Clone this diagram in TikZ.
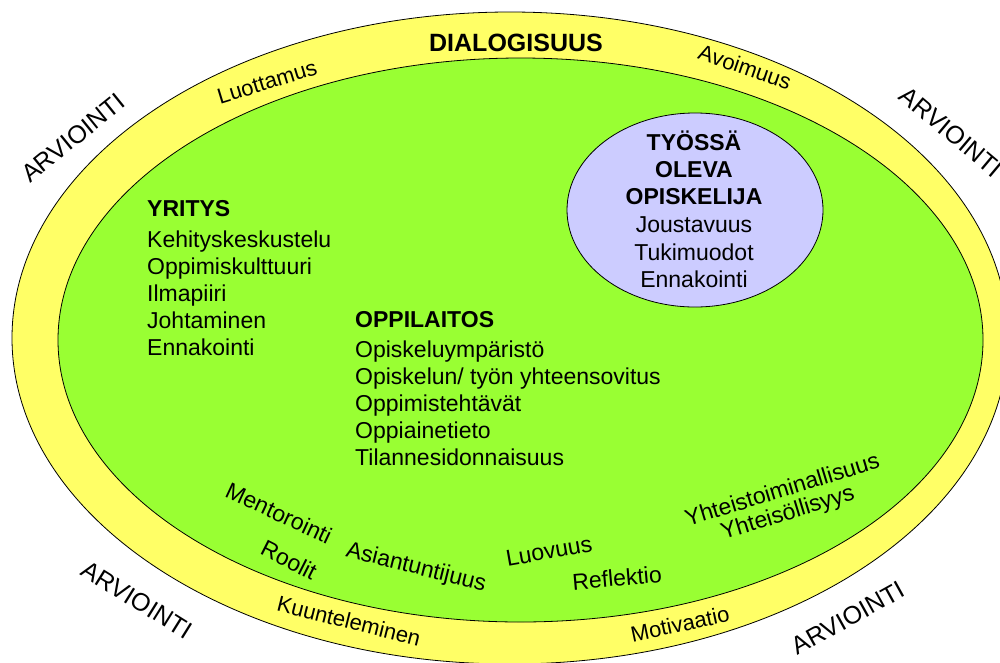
\documentclass[tikz,border=0pt]{standalone}
\usepackage{fontspec}
\setmainfont{Liberation Sans}
\definecolor{ringyellow}{HTML}{FFFF66}
\definecolor{fieldgreen}{HTML}{99FF33}
\definecolor{studentblue}{HTML}{CCCCFF}
\begin{document}
\begin{tikzpicture}[x=1pt,y=-1pt,
  outline/.style={draw=black,line width=0.8pt},
  lbl/.style={inner sep=0pt,font=\fontsize{23}{27}\selectfont},
  head/.style={inner sep=0pt,font=\fontsize{23}{27}\selectfont\bfseries},
  ringtxt/.style={inner sep=0pt,font=\fontsize{22}{26}\selectfont},
  arv/.style={inner sep=0pt,font=\fontsize{25}{30}\selectfont},
  title/.style={inner sep=0pt,font=\fontsize{25}{30}\selectfont\bfseries}]
\useasboundingbox (0,0) rectangle (1000,662);
\clip (0,0) rectangle (1000,662);
\fill[white] (0,0) rectangle (1000,662);
% rings
\draw[outline,fill=ringyellow] (510,338) ellipse [x radius=498,y radius=326];
\draw[outline,fill=fieldgreen] (520.5,340) ellipse [x radius=462.5,y radius=282];
\draw[outline,fill=studentblue] (695,210) ellipse [x radius=128,y radius=97];
% outer labels
\node[arv,rotate=39] (a1) at (73,138) {ARVIOINTI};
\node[arv,rotate=-40] (a2) at (951,132) {ARVIOINTI};
\node[arv,rotate=-32] (a3) at (137,600) {ARVIOINTI};
\node[arv,rotate=29] (a4) at (848,618) {ARVIOINTI};
% ring labels
\node[title] (dia) at (516,43) {DIALOGISUUS};
\node[ringtxt,rotate=17] (luo) at (267,82) {Luottamus};
\node[ringtxt,rotate=-19] (avo) at (745,67) {Avoimuus};
\node[ringtxt,rotate=-14] (kuu) at (349,621) {Kuunteleminen};
\node[ringtxt,rotate=12] (mot) at (680,624) {Motivaatio};
% YRITYS
\node[head,anchor=base west] (yr0) at (147,216) {YRITYS};
\foreach \t [count=\i] in {Kehityskeskustelu,Oppimiskulttuuri,Ilmapiiri,Johtaminen,Ennakointi}
  \node[lbl,anchor=base west] (yr\i) at (147,{220+27*\i}) {\t};
% OPPILAITOS
\node[head,anchor=base west] (op0) at (355,327) {OPPILAITOS};
\foreach \t [count=\i] in {Opiskeluympäristö,Opiskelun/ työn yhteensovitus,Oppimistehtävät,Oppiainetieto,Tilannesidonnaisuus}
  \node[lbl,anchor=base west] (op\i) at (355,{330+27*\i}) {\t};
% student
\node[head,anchor=base] (st1) at (694,150) {TYÖSSÄ};
\node[head,anchor=base] (st2) at (694,177) {OLEVA};
\node[head,anchor=base] (st3) at (694,204) {OPISKELIJA};
\node[lbl,anchor=base] (st4) at (694,232) {Joustavuus};
\node[lbl,anchor=base] (st5) at (694,260) {Tukimuodot};
\node[lbl,anchor=base] (st6) at (694,287) {Ennakointi};
% lower green labels
\node[lbl,rotate=-25] (men) at (279,513) {Mentorointi};
\node[lbl,rotate=-27] (roo) at (289,560) {Roolit};
\node[lbl,rotate=-14] (asi) at (416,568) {Asiantuntijuus};
\node[lbl,rotate=10] (luv) at (549,551) {Luovuus};
\node[lbl,rotate=5] (ref) at (617,578) {Reflektio};
\node[lbl,rotate=17] (yht) at (782,489) {Yhteistoiminallisuus};
\node[lbl,rotate=17] (yhs) at (788,514) {Yhteisöllisyys};
\end{tikzpicture}
\end{document}
